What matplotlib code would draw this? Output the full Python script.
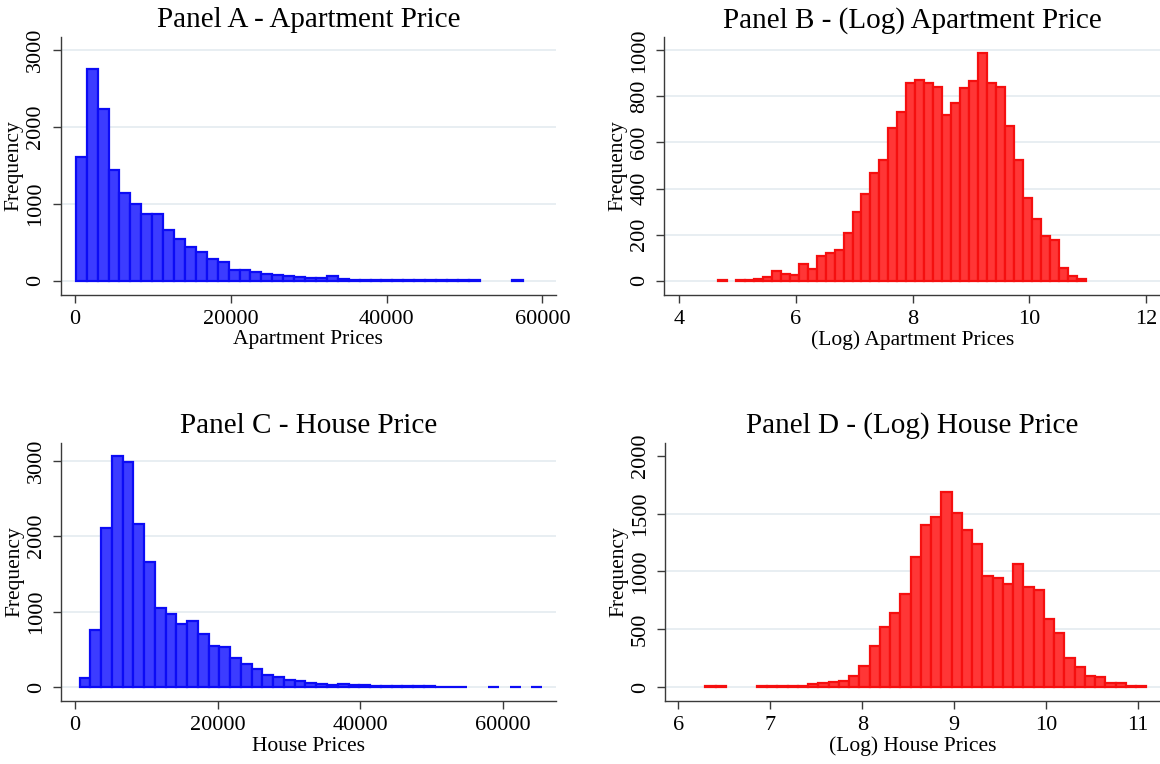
import numpy as np
from matplotlib import pyplot as plt

plt.rcParams['font.family'] = ['Liberation Serif', 'DejaVu Serif']

# histogram counts (bin start, bin width, counts)
apt_start, apt_width = 150, 1400
apt_counts = [1610, 2745, 2225, 1442, 1134, 991, 861, 861, 654, 537,
              432, 367, 275, 236, 144, 144, 118, 92, 79, 61,
              48, 39, 39, 66, 26, 13, 9, 12, 8, 8,
              5, 6, 6, 5, 10, 10, 10, 0, 0, 0, 15]

lapt_start, lapt_width = 4.665, 0.1538
lapt_counts = [4, 0, 4, 4, 6, 17, 40, 30, 26, 72,
               49, 108, 118, 131, 205, 296, 377, 468, 524, 662,
               733, 860, 870, 857, 840, 719, 771, 836, 866, 987,
               857, 840, 671, 524, 359, 268, 195, 177, 56, 22, 6]

house_start, house_width = 622, 1508
house_counts = [115, 751, 2103, 3062, 2978, 2165, 1653, 1052, 963, 831,
                870, 698, 539, 526, 380, 300, 234, 155, 128, 93,
                75, 57, 35, 27, 35, 22, 22, 18, 9, 10,
                8, 7, 6, 5, 4, 4, 0, 0, 3, 0, 3, 0, 3]

lhouse_start, lhouse_width = 6.294, 0.1116
lhouse_counts = [6, 6, 0, 0, 0, 5, 8, 10, 12, 9,
                 23, 32, 46, 55, 98, 185, 355, 522, 644, 802,
                 1128, 1400, 1475, 1685, 1509, 1356, 1241, 958, 947, 889,
                 1062, 863, 843, 592, 465, 254, 176, 98, 89, 38, 38, 9, 6]

blue_fill, blue_edge = "#3c3cff", "#0c0cf5"
red_fill, red_edge = "#ff3636", "#f50f0f"


def panel(ax, start, width, counts, fill, edge, title, xlabel,
          xticks, yticks, xlim, ylim, skip_top_grid=False):
    counts = np.array(counts, dtype=float)
    left = start + np.arange(len(counts)) * width
    keep = counts > 0
    ax.bar(left[keep], counts[keep], width=width, align='edge',
           color=fill, edgecolor=edge, linewidth=1.6, zorder=3)
    ax.set_xlim(xlim)
    ax.set_ylim(ylim)
    ax.set_xticks(xticks)
    ax.set_yticks(yticks)
    ax.set_axisbelow(True)
    ax.yaxis.grid(True, color="#e8eef2", linewidth=1.4)
    if skip_top_grid:
        ax.get_ygridlines()[-1].set_visible(False)
    for s in ["top", "right"]:
        ax.spines[s].set_visible(False)
    for s in ["left", "bottom"]:
        ax.spines[s].set_color("#3a3a3a")
        ax.spines[s].set_linewidth(1.0)
    ax.tick_params(axis='both', direction='out', length=6, width=1,
                   color="#3a3a3a", labelsize=16, pad=5)
    ax.tick_params(axis='y', labelrotation=90)
    for lab in ax.get_yticklabels():
        lab.set_va('center')
    ax.set_title(title, fontsize=21, pad=7)
    ax.set_xlabel(xlabel, fontsize=15.5, labelpad=1)
    ax.set_ylabel("Frequency", fontsize=15.5, labelpad=2)


fig = plt.figure(figsize=(11.6, 7.64), dpi=100)
ax1 = fig.add_axes([0.0523, 0.6143, 0.4270, 0.3373])
ax2 = fig.add_axes([0.5728, 0.6143, 0.4272, 0.3373])
ax3 = fig.add_axes([0.0526, 0.0825, 0.4267, 0.3381])
ax4 = fig.add_axes([0.5733, 0.0825, 0.4267, 0.3381])

panel(ax1, apt_start, apt_width, apt_counts, blue_fill, blue_edge,
      "Panel A - Apartment Price", "Apartment Prices",
      [0, 20000, 40000, 60000], [0, 1000, 2000, 3000],
      (-1796, 61737), (-182, 3165))
panel(ax2, lapt_start, lapt_width, lapt_counts, red_fill, red_edge,
      "Panel B - (Log) Apartment Price", "(Log) Apartment Prices",
      [4, 6, 8, 10, 12], [0, 200, 400, 600, 800, 1000],
      (3.75, 12.24), (-61, 1058))
panel(ax3, house_start, house_width, house_counts, blue_fill, blue_edge,
      "Panel C - House Price", "House Prices",
      [0, 20000, 40000, 60000], [0, 1000, 2000, 3000],
      (-1976, 67400), (-186, 3239))
panel(ax4, lhouse_start, lhouse_width, lhouse_counts, red_fill, red_edge,
      "Panel D - (Log) House Price", "(Log) House Prices",
      [6, 7, 8, 9, 10, 11], [0, 500, 1000, 1500, 2000],
      (5.854, 11.24), (-121, 2115), skip_top_grid=True)

fig.savefig("out.png", dpi=100)
